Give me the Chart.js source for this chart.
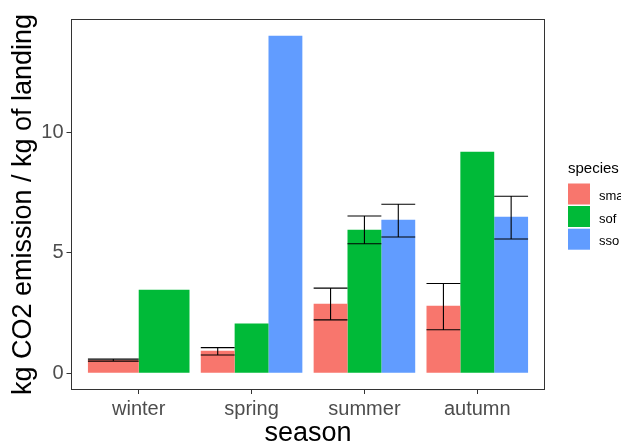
<!DOCTYPE html>
<html>
<head>
<meta charset="utf-8">
<title>kg CO2 emission / kg of landing by season</title>
<script src="https://cdn.jsdelivr.net/npm/chart.js@4/dist/chart.umd.min.js"></script>
<style>
  html, body { margin: 0; padding: 0; background: #ffffff; }
  #wrap { width: 621px; height: 444px; }
</style>
</head>
<body>
<div id="wrap"><canvas id="chart" width="621" height="444"></canvas></div>
<script>
// Seasons on the x axis and the three species groups
const seasons = ['winter', 'spring', 'summer', 'autumn'];
const species = ['sma', 'sof', 'sso'];

// Mean emission per kg of landing, one array per species (null = no data)
const smaMean = [0.55, 0.93, 2.88, 2.80];
const sofMean = [3.46, 2.06, 5.95, 9.19];
const ssoMean = [null, 14.0, 6.37, 6.49];

// Error bar limits (null = no error bar)
const smaLow  = [0.50, 0.75, 2.21, 1.80];
const smaHigh = [0.58, 1.06, 3.53, 3.72];
const sofLow  = [null, null, 5.37, null];
const sofHigh = [null, null, 6.52, null];
const ssoLow  = [null, null, 5.65, 5.57];
const ssoHigh = [null, null, 7.01, 7.34];

// Tick labels on the value axis
const yTicks = [0, 5, 10];

const colours = ['#F8766D', '#00BA38', '#619CFF'];
const means = [smaMean, sofMean, ssoMean];
const lows = [smaLow, sofLow, ssoLow];
const highs = [smaHigh, sofHigh, ssoHigh];

const FONT = '"Liberation Sans", Arial, sans-serif';
Chart.defaults.font.family = FONT;

const toPoints = vals => vals.map((v, i) => ({ x: i + 1, y: v }));

// Frame around the plotting panel
const panelBorder = {
  id: 'panelBorder',
  afterDraw(chart) {
    const { ctx, chartArea: a } = chart;
    ctx.save();
    ctx.strokeStyle = '#333333';
    ctx.lineWidth = 1;
    ctx.strokeRect(a.left + 0.5, a.top + 0.5, a.right - a.left - 1, a.bottom - a.top - 1);
    ctx.restore();
  }
};

// Whiskers drawn across the full width of each bar
const errorBars = {
  id: 'errorBars',
  afterDatasetsDraw(chart) {
    const { ctx } = chart;
    const y = chart.scales.y;
    ctx.save();
    ctx.strokeStyle = '#000000';
    ctx.lineWidth = 1.1;
    chart.data.datasets.forEach((ds, d) => {
      const meta = chart.getDatasetMeta(d);
      meta.data.forEach((el, i) => {
        const lo = ds.errLow[i], hi = ds.errHigh[i];
        if (lo == null || hi == null || ds.data[i].y == null) return;
        const half = el.width / 2;
        const yl = y.getPixelForValue(lo), yh = y.getPixelForValue(hi);
        ctx.beginPath();
        ctx.moveTo(el.x - half, yh); ctx.lineTo(el.x + half, yh);
        ctx.moveTo(el.x - half, yl); ctx.lineTo(el.x + half, yl);
        ctx.moveTo(el.x, yh); ctx.lineTo(el.x, yl);
        ctx.stroke();
      });
    });
    ctx.restore();
  }
};

// Legend on the right: title plus filled keys
const speciesLegend = {
  id: 'speciesLegend',
  afterDraw(chart) {
    const { ctx } = chart;
    ctx.save();
    ctx.fillStyle = '#000000';
    ctx.font = '15px ' + FONT;
    ctx.textBaseline = 'alphabetic';
    ctx.textAlign = 'left';
    ctx.fillText('species', 568, 173);
    const keyTops = [183.5, 206, 228.7];
    chart.data.datasets.forEach((ds, k) => {
      ctx.fillStyle = ds.backgroundColor;
      ctx.fillRect(568, keyTops[k], 22, 21);
      ctx.fillStyle = '#000000';
      ctx.font = '13px ' + FONT;
      ctx.fillText(ds.label, 599, keyTops[k] + 16.5);
    });
    ctx.restore();
  }
};

new Chart(document.getElementById('chart'), {
  type: 'bar',
  data: {
    datasets: species.map((s, k) => ({
      label: s,
      data: toPoints(means[k]),
      backgroundColor: colours[k],
      borderWidth: 0,
      barPercentage: 1,
      categoryPercentage: 0.9,
      skipNull: true,
      errLow: lows[k],
      errHigh: highs[k]
    }))
  },
  options: {
    responsive: false,
    animation: false,
    devicePixelRatio: 1,
    layout: { padding: { left: 0, top: 19, right: 76, bottom: 0 } },
    plugins: { legend: { display: false }, tooltip: { enabled: false } },
    scales: {
      x: {
        type: 'linear',
        min: 0.4,
        max: 4.6,
        offset: false,
        afterBuildTicks: s => { s.ticks = seasons.map((_, i) => ({ value: i + 1 })); },
        afterFit: s => { s.height = 54; },
        ticks: {
          callback: v => seasons[Math.round(v) - 1],
          font: { size: 20 },
          color: '#4D4D4D',
          padding: 3,
          maxRotation: 0,
          autoSkip: false
        },
        grid: { display: true, offset: false, drawOnChartArea: false, drawTicks: true, tickLength: 4, color: '#333333' },
        border: { display: false },
        title: {
          display: true,
          text: 'season',
          font: { size: 27, lineHeight: 0.8 },
          color: '#000000',
          padding: { top: 0, bottom: 0 }
        }
      },
      y: {
        type: 'linear',
        min: -0.7,
        max: 14.7,
        afterBuildTicks: s => { s.ticks = yTicks.map(v => ({ value: v })); },
        afterFit: s => { s.width = 71; },
        ticks: { font: { size: 20 }, color: '#4D4D4D', padding: 3 },
        grid: { display: true, drawOnChartArea: false, drawTicks: true, tickLength: 4.5, color: '#333333' },
        border: { display: false },
        title: {
          display: true,
          text: 'kg CO2 emission / kg of landing',
          font: { size: 27, lineHeight: 1 },
          color: '#000000',
          padding: { top: 10.5, bottom: 0 }
        }
      }
    }
  },
  plugins: [panelBorder, errorBars, speciesLegend]
});
</script>
</body>
</html>
